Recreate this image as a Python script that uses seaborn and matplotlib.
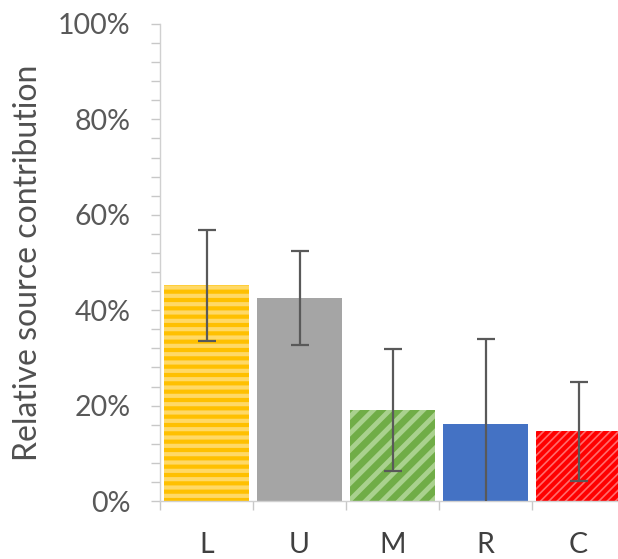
import numpy as np
import pandas as pd
import matplotlib
matplotlib.use("Agg")
import matplotlib.pyplot as plt
from matplotlib.ticker import MultipleLocator, FuncFormatter
import seaborn as sns

# Source apportionment results (percent) with their uncertainties
sources = ["L", "U", "M", "R", "C"]
contribution = [45.2, 42.6, 19.0, 16.1, 14.6]
uncertainty = [11.7, 9.8, 12.8, 17.9, 10.4]

face_colors = ["#FFC000", "#A5A5A5", "#70AD47", "#4472C4", "#FF0000"]
stripe_colors = ["#FFD966", "#A5A5A5", "#A9D18E", "#4472C4", "#FF6B6B"]
hatches = ["--", None, "//", None, "////"]
hatch_widths = [3.0, 0, 3.5, 0, 1.2]

sns.set_theme(style="white")
plt.rcParams["font.family"] = ["Lato", "DejaVu Sans"]

df = pd.DataFrame({"source": sources, "value": contribution})

fig = plt.figure(figsize=(6.18, 5.59), dpi=100)
ax = fig.add_axes([160 / 618, 58 / 559, 465 / 618, 477 / 559])

sns.barplot(data=df, x="source", y="value", hue="source", palette=face_colors,
            width=0.92, errorbar=None, legend=False, ax=ax, linewidth=0,
            saturation=1)

for patch, fc, sc, h, hw in zip(ax.patches, face_colors, stripe_colors, hatches, hatch_widths):
    patch.set_facecolor(fc)
    patch.set_edgecolor(sc)
    patch.set_linewidth(0)
    if h:
        patch.set_hatch(h)
        if hasattr(patch, "set_hatch_linewidth"):
            patch.set_hatch_linewidth(hw)
        else:
            patch._hatch_linewidth = hw

ax.errorbar(np.arange(len(sources)), contribution, yerr=uncertainty, fmt="none",
            ecolor="#595959", elinewidth=1.6, capsize=6.5, capthick=1.6, zorder=5)

ax.set_xlim(-0.5, len(sources) - 0.5)
ax.set_ylim(0, 100)

ax.yaxis.set_major_locator(MultipleLocator(20))
ax.yaxis.set_minor_locator(MultipleLocator(4))
ax.yaxis.set_major_formatter(FuncFormatter(lambda v, _: f"{v:.0f}%"))
ax.set_xticks(np.arange(len(sources)))
ax.set_xticks(np.arange(len(sources) + 1) - 0.5, minor=True)

ax.tick_params(axis="y", which="both", direction="out", length=6.5, width=1,
               color="#C8C8C8", labelsize=20.5, labelcolor="#595959", pad=14.5, left=True)
ax.tick_params(axis="x", which="major", length=0, labelsize=20.5,
               labelcolor="#404040", pad=22)
ax.tick_params(axis="x", which="minor", direction="out", length=6.5, width=1,
               color="#C8C8C8", bottom=True)

for side in ["top", "right"]:
    ax.spines[side].set_visible(False)
for side in ["left", "bottom"]:
    ax.spines[side].set_color("#D0D0D0")
    ax.spines[side].set_linewidth(1)

ax.set_xlabel("")
ax.set_ylabel("Relative source contribution", fontsize=23, color="#505050")
ax.yaxis.set_label_coords(-0.252, 0.5)

fig.savefig("out.png", dpi=100)
